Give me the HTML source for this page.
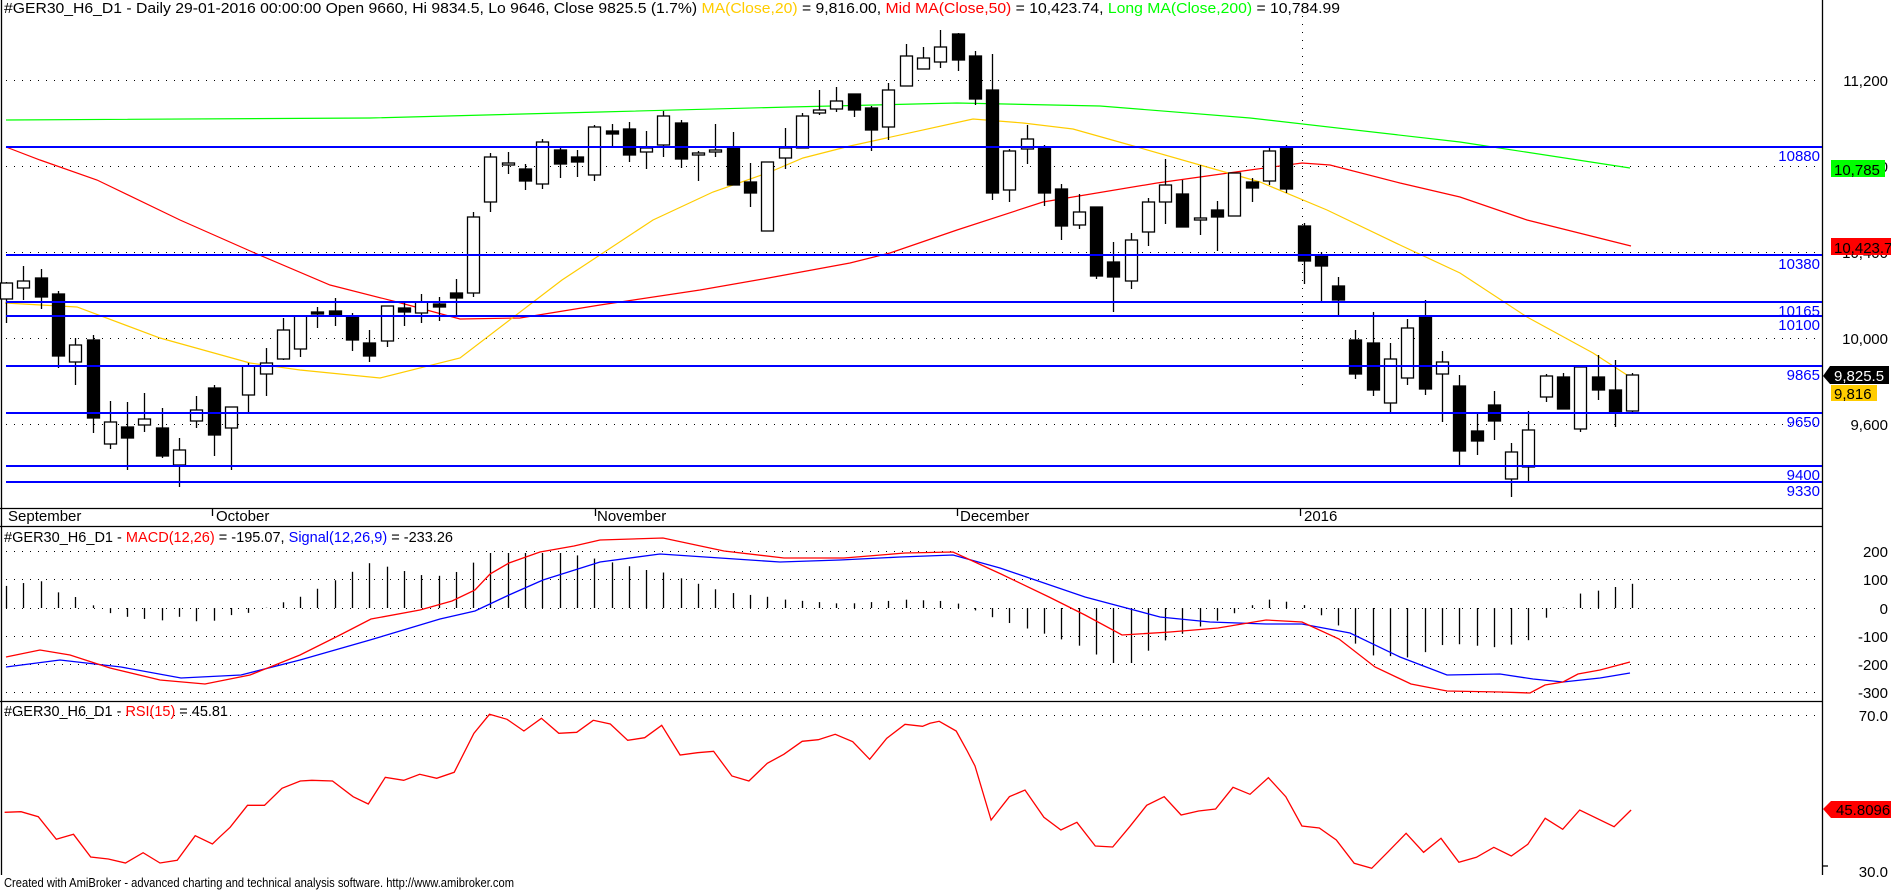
<!DOCTYPE html>
<html><head><meta charset="utf-8">
<style>
html,body{margin:0;padding:0;background:#fff;}
svg{display:block;font-family:"Liberation Sans",Arial,sans-serif;}
</style></head>
<body>
<svg id="c" width="1891" height="892" xmlns="http://www.w3.org/2000/svg">
<rect width="1891" height="892" fill="#fff"/>
<g id="grid" stroke="#000" stroke-width="1" stroke-dasharray="1,7">
<line x1="6" y1="80.5" x2="1822" y2="80.5"/>
<line x1="6" y1="166.5" x2="1822" y2="166.5"/>
<line x1="6" y1="252.5" x2="1822" y2="252.5"/>
<line x1="6" y1="338.5" x2="1822" y2="338.5"/>
<line x1="6" y1="424.5" x2="1822" y2="424.5"/>
<line x1="1302.5" y1="8" x2="1302.5" y2="386"/>
<line x1="6" y1="551.5" x2="1822" y2="551.5"/>
<line x1="6" y1="579.5" x2="1822" y2="579.5"/>
<line x1="6" y1="608.5" x2="1822" y2="608.5"/>
<line x1="6" y1="636.5" x2="1822" y2="636.5"/>
<line x1="6" y1="664.5" x2="1822" y2="664.5"/>
<line x1="6" y1="692.5" x2="1822" y2="692.5"/>
<line x1="6" y1="715.5" x2="1822" y2="715.5"/>
</g>
<g stroke="#000" stroke-width="1.3" fill="none">
<line x1="1.5" y1="0" x2="1.5" y2="875"/>
<line x1="1822.5" y1="0" x2="1822.5" y2="875"/>
<line x1="0" y1="508.5" x2="1822" y2="508.5"/>
<line x1="0" y1="526.5" x2="1822" y2="526.5"/>
<line x1="0" y1="701.5" x2="1822" y2="701.5"/>
<line x1="212.5" y1="508" x2="212.5" y2="516"/>
<line x1="595.5" y1="508" x2="595.5" y2="516"/>
<line x1="957.5" y1="508" x2="957.5" y2="516"/>
<line x1="1300.5" y1="508" x2="1300.5" y2="516"/>
<line x1="1822" y1="866" x2="1828" y2="866"/>
</g>
<g id="ma"></g>
<g id="candles"></g>
<g stroke="#0000ff" stroke-width="2">
<line x1="6" y1="147" x2="1822" y2="147"/>
<line x1="6" y1="255" x2="1822" y2="255"/>
<line x1="6" y1="302" x2="1822" y2="302"/>
<line x1="6" y1="316" x2="1822" y2="316"/>
<line x1="6" y1="366" x2="1822" y2="366"/>
<line x1="6" y1="413" x2="1822" y2="413"/>
<line x1="6" y1="466" x2="1822" y2="466"/>
<line x1="6" y1="482" x2="1822" y2="482"/>
</g>
<g fill="#0000ff" font-size="15" text-anchor="end">
<text x="1820" y="161">10880</text>
<text x="1820" y="269">10380</text>
<text x="1820" y="316">10165</text>
<text x="1820" y="330">10100</text>
<text x="1820" y="380">9865</text>
<text x="1820" y="427">9650</text>
<text x="1820" y="480">9400</text>
<text x="1820" y="496">9330</text>
</g>
<g fill="#000" font-size="15" text-anchor="end">
<text x="1888" y="86">11,200</text>
<text x="1888" y="172">10,800</text>
<text x="1888" y="258">10,400</text>
<text x="1888" y="344">10,000</text>
<text x="1888" y="430">9,600</text>
<text x="1888" y="557">200</text>
<text x="1888" y="585">100</text>
<text x="1888" y="614">0</text>
<text x="1888" y="642">-100</text>
<text x="1888" y="670">-200</text>
<text x="1888" y="698">-300</text>
<text x="1888" y="721">70.0</text>
<text x="1888" y="877">30.0</text>
</g>
<rect x="1831" y="160" width="54" height="17" fill="#00ff00"/>
<text x="1834" y="175" font-size="15">10,785</text>
<rect x="1831" y="238" width="60" height="17" fill="#ff0000"/>
<text x="1834" y="253" font-size="15">10,423.7</text>
<polygon points="1823,376 1830,366 1889,366 1889,384 1830,384" fill="#000"/>
<text x="1834" y="381" font-size="15" fill="#fff">9,825.5</text>
<rect x="1831" y="385" width="46" height="16" fill="#ffcc00"/>
<text x="1834" y="399" font-size="15">9,816</text>
<polygon points="1823,809 1831,801 1891,801 1891,818 1831,818" fill="#ff0000"/>
<text x="1836" y="815" font-size="15">45.8096</text>
<g font-size="15" fill="#000">
<text x="8" y="521">September</text>
<text x="216" y="521">October</text>
<text x="597" y="521">November</text>
<text x="960" y="521">December</text>
<text x="1304" y="521">2016</text>
</g>
<text x="4" y="13" font-size="15" textLength="1336" lengthAdjust="spacingAndGlyphs">#GER30_H6_D1 - Daily 29-01-2016 00:00:00 Open 9660, Hi 9834.5, Lo 9646, Close 9825.5 (1.7%) <tspan fill="#ffcc00">MA(Close,20)</tspan> = 9,816.00, <tspan fill="#ff0000">Mid MA(Close,50)</tspan> = 10,423.74, <tspan fill="#00ff00">Long MA(Close,200)</tspan> = 10,784.99</text>
<text x="4" y="542" font-size="15" textLength="449" lengthAdjust="spacingAndGlyphs">#GER30_H6_D1 - <tspan fill="#ff0000">MACD(12,26)</tspan> = -195.07, <tspan fill="#0000ff">Signal(12,26,9)</tspan> = -233.26</text>
<text x="4" y="716" font-size="15" textLength="224" lengthAdjust="spacingAndGlyphs">#GER30_H6_D1 - <tspan fill="#ff0000">RSI(15)</tspan> = 45.81</text>
<text x="4" y="887" font-size="13" textLength="510" lengthAdjust="spacingAndGlyphs">Created with AmiBroker - advanced charting and technical analysis software. http://www.amibroker.com</text>
<g id="macd"></g>
<g id="rsi"></g>
</svg>
<script>
var NS="http://www.w3.org/2000/svg";
function el(p,t,a){var e=document.createElementNS(NS,t);for(var k in a)e.setAttribute(k,a[k]);p.appendChild(e);return e;}
function pl(p,pts,col,w){el(p,"polyline",{points:pts.map(function(q){return q[0]+","+q[1]}).join(" "),fill:"none",stroke:col,"stroke-width":w||1.2});}
function interp(pts,x){if(x<=pts[0][0])return pts[0][1];for(var i=1;i<pts.length;i++){if(x<=pts[i][0]){var a=pts[i-1],b=pts[i];return a[1]+(b[1]-a[1])*(x-a[0])/(b[0]-a[0]);}}return pts[pts.length-1][1];}
var ma=document.getElementById("ma");
var green=[[6,120],[370,118],[600,112],[790,107],[957,103],[1100,106],[1250,118],[1460,142],[1630,168]];
var red=[[6,147],[40,160],[97,180],[180,220],[257,254],[330,285],[397,302],[460,319],[520,318],[600,305],[700,290],[763,279],[850,263],[890,253],[957,230],[1043,202],[1157,183],[1250,170],[1302,163],[1330,165],[1400,183],[1460,197],[1527,220],[1631,246]];
var yel=[[5,303],[77,307],[160,338],[250,363],[300,370],[380,378],[460,358],[562,280],[653,220],[713,192],[770,172],[803,158],[850,146],[973,119],[1023,123],[1073,129],[1137,147],[1207,167],[1260,182],[1327,210],[1400,245],[1460,273],[1527,317],[1593,353],[1627,375]];
pl(ma,green,"#00ff00");pl(ma,red,"#ff0000");pl(ma,yel,"#ffcc00");
var D=[[283,299,282,323,0],[281,288,266,300,0],[278,297,269,309,1],[294,356,291,368,1],[345,362,338,385,0],[340,418,335,433,1],[422,444,401,449,0],[427,438,402,470,1],[419,425,393,432,0],[428,456,408,458,1],[450,465,438,487,0],[410,421,396,428,0],[388,435,385,456,1],[407,428,407,470,0],[366,395,363,412,0],[363,374,348,396,0],[330,359,318,360,0],[316,349,316,357,0],[312,314,307,328,1],[311,315,298,326,1],[317,340,313,351,1],[343,356,330,362,1],[306,341,306,347,0],[308,312,302,326,1],[302,313,294,323,0],[304,307,297,321,1],[293,298,279,315,1],[217,293,212,297,0],[157,202,153,212,0],[163,165,152,174,0],[169,181,164,190,1],[142,184,139,189,0],[150,164,148,178,1],[157,162,150,177,1],[127,175,125,181,0],[131,134,124,147,1],[129,155,122,162,1],[148,152,131,169,0],[116,145,111,157,0],[123,159,120,168,1],[153,155,151,181,0],[150,152,124,157,0],[148,185,132,185,1],[182,193,163,207,1],[162,231,162,231,0],[148,158,128,169,0],[116,148,113,148,0],[110,113,90,115,0],[101,109,87,112,0],[94,110,94,117,1],[108,130,106,151,1],[90,127,83,140,0],[56,86,44,86,0],[58,69,47,69,0],[47,62,30,68,0],[34,60,33,71,1],[56,99,51,105,1],[90,193,54,200,1],[151,190,149,202,0],[139,149,125,164,0],[147,193,145,206,1],[189,226,184,240,1],[212,225,194,229,0],[207,276,207,279,1],[262,277,242,312,1],[240,281,233,289,0],[202,232,198,246,0],[185,202,159,224,0],[194,227,180,227,1],[218,220,165,235,0],[210,217,201,251,1],[173,216,173,216,0],[182,188,178,202,1],[151,181,148,185,0],[147,189,145,193,1],[226,261,223,284,1],[255,266,252,302,1],[286,300,277,317,1],[340,374,330,379,1],[343,390,312,396,1],[359,403,343,412,0],[328,378,319,385,0],[316,389,300,395,1],[362,374,351,422,0],[386,451,375,465,1],[431,441,413,455,1],[405,421,391,440,1],[452,479,443,497,0],[430,467,411,481,0],[376,397,374,402,0],[377,409,373,409,1],[367,429,367,432,0],[377,390,355,400,1],[390,412,360,427,1],[375,411,373,413,0]];
var cg=document.getElementById("candles");
var xs=[];
for(var i=0;i<D.length;i++){var x=Math.round(6+17.3*i)+0.5;xs.push(x);var d=D[i];
el(cg,"line",{x1:x,y1:d[2],x2:x,y2:d[3],stroke:"#000","stroke-width":1.3});
var h=Math.max(d[1]-d[0],1.5);
el(cg,"rect",{x:x-6,y:d[0],width:12,height:h,fill:d[4]?"#000":"#fff",stroke:"#000","stroke-width":1.3});}
var mg=document.getElementById("macd");
var mred=[[6,657],[40,650],[70,655],[110,668],[160,680],[205,684],[250,675],[300,655],[340,635],[371,619],[420,610],[452,601],[475,590],[490,574],[509,563],[540,552],[574,546],[600,540],[663,538],[724,551],[784,558],[844,558],[905,553],[953,552],[1001,574],[1049,597],[1085,615],[1122,635],[1170,632],[1218,628],[1266,620],[1302,622],[1339,639],[1375,667],[1411,684],[1447,691],[1500,692],[1530,693],[1545,685],[1563,682],[1578,674],[1600,670],[1630,662]];
var mblue=[[6,667],[60,660],[121,667],[181,678],[241,675],[300,660],[370,640],[440,619],[475,611],[509,595],[543,580],[600,562],[660,554],[720,558],[780,562],[840,560],[900,557],[953,555],[1000,568],[1085,597],[1160,617],[1210,622],[1266,624],[1302,624],[1350,633],[1400,657],[1447,675],[1500,674],[1533,679],[1563,682],[1600,678],[1630,673]];
for(var i=0;i<xs.length;i++){var x=xs[i];var diff=(interp(mblue,x)-interp(mred,x))*2.2;diff=Math.max(-55,Math.min(55,diff));
el(mg,"line",{x1:x,y1:608,x2:x,y2:608-diff,stroke:"#000","stroke-width":1.3});}
pl(mg,mblue,"#0000ff",1.3);pl(mg,mred,"#ff0000",1.3);
var rg=document.getElementById("rsi");
var z5=[[12,397],[55,395],[100,410],[147,478],[192,463],[237,531],[283,537],[328,549],[374,518],[418,549],[463,541],[510,467],[555,492]];
var z11=[[0,410],[22,382],[60,316],[97,316],[135,265],[175,243],[200,241],[245,243],[290,290],[323,312],[360,232],[400,241],[435,223],[472,235],[510,217],[553,100],[587,43],[625,58],[662,93],[700,55],[738,100],[777,97],[813,61],[850,72],[888,121],[925,113],[962,76],[1002,165],[1040,158],[1075,154],[1115,228],[1152,243],[1192,190],[1228,163],[1268,124],[1303,119],[1340,103],[1378,125],[1415,178],[1452,115],[1492,73],[1530,79]];
var z12=[[0,70],[20,64],[57,93],[80,150],[98,198],[133,360],[173,290],[207,270],[248,352],[285,390],[320,367],[360,438],[398,441],[435,380],[472,316],[510,290],[547,345],[585,333],[622,327],[660,262],[697,283],[737,233],[775,290],[810,378],[848,384],[885,420],[924,490],[962,505],[998,455],[1037,400],[1075,457],[1113,415],[1152,487],[1190,472],[1228,442],[1266,468],[1302,433],[1340,355],[1378,388],[1415,330],[1490,380],[1527,330]];
var rs=[];
z5.forEach(function(p){rs.push([p[0]/2.613,680+p[1]/3]);});
z11.forEach(function(p){rs.push([220+p[0]/2.178,700+p[1]/3]);});
z12.forEach(function(p){rs.push([930+p[0]/2.178,700+p[1]/3]);});
pl(rg,rs.map(function(p){return [p[0].toFixed(1),p[1].toFixed(1)]}),"#ff0000",1.3);
</script>
</body></html>
